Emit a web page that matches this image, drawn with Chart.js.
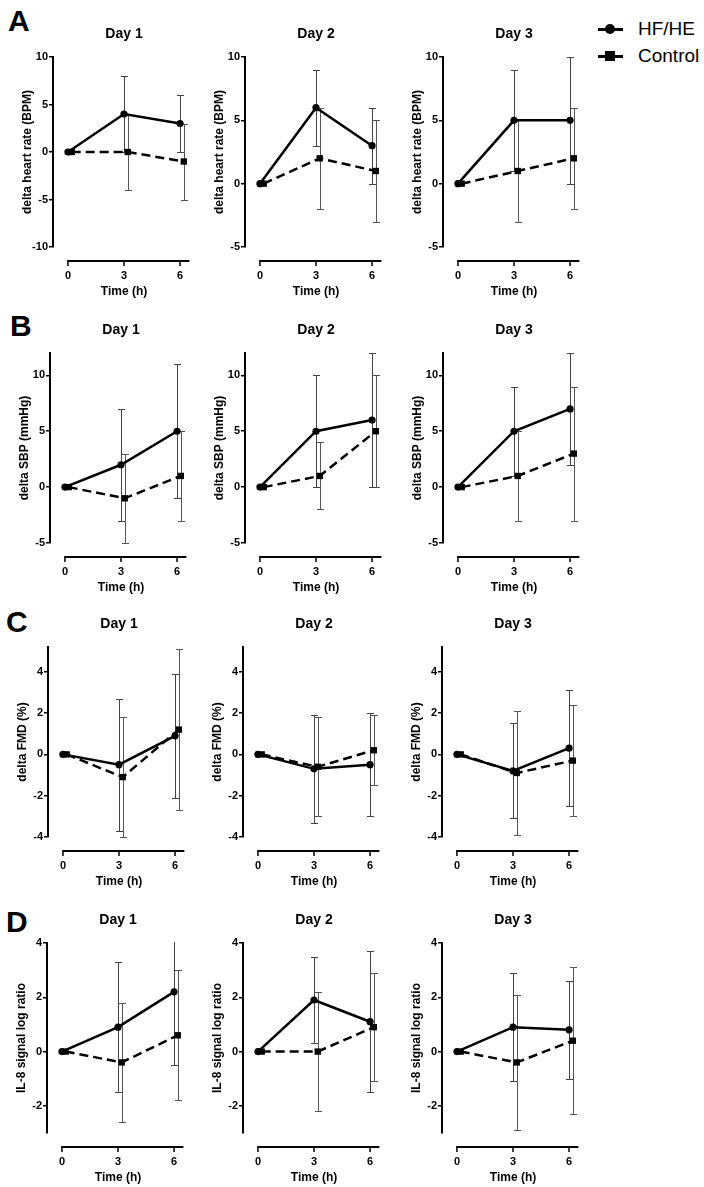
<!DOCTYPE html>
<html><head><meta charset="utf-8">
<script src="https://cdn.jsdelivr.net/npm/chart.js@4.4.0/dist/chart.umd.min.js"></script>
<style>
html,body{margin:0;padding:0;background:#fff;}
body{width:704px;height:1187px;position:relative;overflow:hidden;font-family:'Liberation Sans',Arial,sans-serif;color:#000;}
canvas{position:absolute;}
.letter{position:absolute;font-weight:bold;font-size:30px;line-height:30px;}
.legtext{position:absolute;font-size:19px;line-height:19px;left:638px;}
.legline{position:absolute;left:598px;width:25px;height:3px;background:#000;}
.legdot{position:absolute;width:10px;height:10px;background:#000;border-radius:50%;}
.legsq{position:absolute;width:10px;height:10px;background:#000;}
</style></head><body>
<div class="letter" style="left:8px;top:6px;">A</div>
<div class="letter" style="left:10px;top:311px;">B</div>
<div class="letter" style="left:6px;top:607px;">C</div>
<div class="letter" style="left:6px;top:907px;">D</div>

<div class="legline" style="top:28px;"></div><div class="legdot" style="left:605px;top:24px;"></div>
<div class="legtext" style="top:19px;">HF/HE</div>
<div class="legline" style="top:55px;"></div><div class="legsq" style="left:605px;top:51px;"></div>
<div class="legtext" style="top:46px;">Control</div>

<script>
// ---------------- data ----------------
const times = [0, 3, 6];
const xTickValues = [0, 3, 6];
const dayTitles = ['Day 1', 'Day 2', 'Day 3'];
const seriesNames = ['HF/HE', 'Control'];

// A: delta heart rate (BPM), per day [0h, 3h, 6h]
const hrHfMean   = [[0, 4, 3], [0, 6, 3], [0, 5, 5]];
const hrHfSd     = [[0, 4, 3], [0, 3, 3], [0, 4, 5]];
const hrCtrlMean = [[0, 0, -1], [0, 2, 1], [0, 1, 2]];
const hrCtrlSd   = [[0, 4, 4], [0, 4, 4], [0, 4, 4]];

// B: delta SBP (mmHg)
const sbpHfMean   = [[0, 2, 5], [0, 5, 6], [0, 5, 7]];
const sbpHfSd     = [[0, 5, 6], [0, 5, 6], [0, 4, 5]];
const sbpCtrlMean = [[0, -1, 1], [0, 1, 5], [0, 1, 3]];
const sbpCtrlSd   = [[0, 4, 4], [0, 3, 5], [0, 4, 6]];

// C: delta FMD (%)
const fmdHfMean   = [[0, -0.5, 0.9], [0, -0.7, -0.5], [0, -0.8, 0.3]];
const fmdHfSd     = [[0, 3.2, 3.0], [0, 2.6, 2.5], [0, 2.3, 2.8]];
const fmdCtrlMean = [[0, -1.1, 1.2], [0, -0.6, 0.2], [0, -0.9, -0.3]];
const fmdCtrlSd   = [[0, 2.9, 3.9], [0, 2.4, 1.7], [0, 3.0, 2.7]];

// D: IL-8 signal log ratio
const il8HfMean   = [[0, 0.9, 2.2], [0, 1.9, 1.1], [0, 0.9, 0.8]];
const il8HfSd     = [[0, 2.4, 2.7], [0, 1.6, 2.6], [0, 2.0, 1.8]];
const il8CtrlMean = [[0, -0.4, 0.6], [0, 0, 0.9], [0, -0.4, 0.4]];
const il8CtrlSd   = [[0, 2.2, 2.4], [0, 2.2, 2.0], [0, 2.5, 2.7]];

// y tick labels / axis ranges
const hrTicksDay1 = [-10, -5, 0, 5, 10];
const hrTicks     = [-5, 0, 5, 10];
const sbpTicks    = [-5, 0, 5, 10];
const fmdTicks    = [-4, -2, 0, 2, 4];
const il8Ticks    = [-2, 0, 2, 4];
const hrRangeDay1 = [-10, 10];
const hrRange     = [-5, 10];
const sbpRange    = [-5, 12];
const fmdRange    = [-4, 5.2];
const il8Range    = [-3, 4];

const yTitles = ['delta heart rate (BPM)', 'delta SBP (mmHg)', 'delta FMD (%)', 'IL-8 signal log ratio'];

// ---------------- layout / style ----------------
const rowChartTop = [57, 353, 647, 943];
const colAxisX = [[53, 245, 443], [50, 245, 443], [48, 243, 442], [47, 243, 442]];
const Y_SCALE_W = 40, TITLE_BLOCK = 35, PLOT_H = 190, X_SCALE_H = 52, PLOT_W = 142;
const X_MIN = -0.8, X_MAX = 6.8, X_AXIS_END = 6.5, CTRL_OFFSET = 0.2;

Chart.defaults.font.family = "'Liberation Sans', Arial, sans-serif";
Chart.defaults.color = '#000';

const errorBarPlugin = {
  id: 'errorBars',
  beforeDatasetsDraw(chart) {
    const {ctx, chartArea, scales: {x, y}} = chart;
    ctx.save();
    ctx.beginPath();
    ctx.rect(chartArea.left, chartArea.top - 1, chartArea.width + 10, chartArea.height + 2);
    ctx.clip();
    chart.data.datasets.forEach(ds => {
      ds.data.forEach((p, i) => {
        const sd = ds.sd[i];
        if (!sd) return;
        const px = Math.round(x.getPixelForValue(p.x)) + 0.5;
        const yt = Math.round(y.getPixelForValue(p.y + sd)) + 0.5;
        const yb = Math.round(y.getPixelForValue(p.y - sd)) + 0.5;
        ctx.strokeStyle = ds.errColor;
        ctx.lineWidth = 1;
        ctx.beginPath();
        ctx.moveTo(px, yt); ctx.lineTo(px, yb);
        ctx.moveTo(px - 3.5, yt); ctx.lineTo(px + 3.5, yt);
        ctx.moveTo(px - 3.5, yb); ctx.lineTo(px + 3.5, yb);
        ctx.stroke();
      });
    });
    ctx.restore();
  }
};

const xAxisPlugin = {
  id: 'offsetXAxis',
  afterDraw(chart) {
    const {ctx, chartArea, scales: {x}} = chart;
    const y0 = chartArea.bottom + 14;
    ctx.save();
    ctx.strokeStyle = '#000';
    ctx.lineWidth = 2;
    ctx.beginPath();
    ctx.moveTo(x.getPixelForValue(0) - 0.75, y0);
    ctx.lineTo(x.getPixelForValue(X_AXIS_END), y0);
    ctx.stroke();
    ctx.lineWidth = 1.5;
    ctx.beginPath();
    x.ticks.forEach(t => {
      const px = x.getPixelForValue(t.value);
      ctx.moveTo(px, y0); ctx.lineTo(px, y0 + 5);
    });
    ctx.stroke();
    ctx.restore();
  }
};

const rows = [
  {hf: hrHfMean, hfSd: hrHfSd, ct: hrCtrlMean, ctSd: hrCtrlSd, ticks: [hrTicksDay1, hrTicks, hrTicks], ranges: [hrRangeDay1, hrRange, hrRange]},
  {hf: sbpHfMean, hfSd: sbpHfSd, ct: sbpCtrlMean, ctSd: sbpCtrlSd, ticks: [sbpTicks, sbpTicks, sbpTicks], ranges: [sbpRange, sbpRange, sbpRange]},
  {hf: fmdHfMean, hfSd: fmdHfSd, ct: fmdCtrlMean, ctSd: fmdCtrlSd, ticks: [fmdTicks, fmdTicks, fmdTicks], ranges: [fmdRange, fmdRange, fmdRange]},
  {hf: il8HfMean, hfSd: il8HfSd, ct: il8CtrlMean, ctSd: il8CtrlSd, ticks: [il8Ticks, il8Ticks, il8Ticks], ranges: [il8Range, il8Range, il8Range]}
];

rows.forEach((row, r) => {
  for (let d = 0; d < 3; d++) {
    const cv = document.createElement('canvas');
    const W = Y_SCALE_W + PLOT_W, H = TITLE_BLOCK + PLOT_H + X_SCALE_H;
    cv.width = W; cv.height = H;
    cv.style.left = (colAxisX[r][d] - Y_SCALE_W) + 'px';
    cv.style.top = (rowChartTop[r] - TITLE_BLOCK) + 'px';
    cv.style.width = W + 'px'; cv.style.height = H + 'px';
    document.body.appendChild(cv);
    const yTicks = row.ticks[d];
    const yRange = row.ranges[d];
    new Chart(cv, {
      type: 'line',
      data: {
        datasets: [
          {
            label: seriesNames[1],
            data: times.map((t, i) => ({x: t + CTRL_OFFSET, y: row.ct[d][i]})),
            sd: row.ctSd[d],
            errColor: '#555',
            borderColor: '#000', backgroundColor: '#000',
            borderWidth: 2.5, borderDash: [9, 5],
            pointStyle: 'rect', pointRadius: 4.5, pointBorderWidth: 0,
            tension: 0, clip: false
          },
          {
            label: seriesNames[0],
            data: times.map((t, i) => ({x: t, y: row.hf[d][i]})),
            sd: row.hfSd[d],
            errColor: '#444',
            borderColor: '#000', backgroundColor: '#000',
            borderWidth: 2.5,
            pointStyle: 'circle', pointRadius: 3.6, pointBorderWidth: 0,
            tension: 0, clip: false
          }
        ]
      },
      options: {
        responsive: false,
        animation: false,
        devicePixelRatio: 1,
        layout: {padding: 0, autoPadding: false},
        plugins: {
          legend: {display: false},
          tooltip: {enabled: false},
          title: {
            display: true, text: dayTitles[d], fullSize: false,
            font: {size: 14, weight: 'bold', lineHeight: 16/14},
            color: '#000',
            padding: {top: 4, bottom: 15}
          }
        },
        scales: {
          x: {
            type: 'linear', position: 'bottom', min: X_MIN, max: X_MAX,
            afterBuildTicks: ax => { ax.ticks = xTickValues.map(v => ({value: v})); },
            afterFit: ax => { ax.height = X_SCALE_H; ax.paddingLeft = 0; ax.paddingRight = 0; },
            grid: {display: false, drawTicks: true, tickLength: 22},
            border: {display: false},
            ticks: {font: {size: 11, weight: 'bold'}, color: '#000', padding: 0, maxRotation: 0, autoSkip: false},
            title: {display: true, text: 'Time (h)', font: {size: 12, weight: 'bold'}, color: '#000', padding: {top: 0, bottom: 0}}
          },
          y: {
            type: 'linear', position: 'left', min: yRange[0], max: yRange[1],
            afterBuildTicks: ax => { ax.ticks = yTicks.map(v => ({value: v})); },
            afterFit: ax => { ax.width = Y_SCALE_W; },
            grid: {display: true, drawOnChartArea: false, drawTicks: true, tickLength: 4, color: '#000', lineWidth: 1.5},
            border: {display: true, color: '#000', width: 2},
            ticks: {font: {size: 11, weight: 'bold'}, color: '#000', padding: 1, autoSkip: false},
            title: {display: true, text: yTitles[r], font: {size: 12, weight: 'bold'}, color: '#000', padding: {top: 7, bottom: 0}}
          }
        }
      },
      plugins: [errorBarPlugin, xAxisPlugin]
    });
  }
});
</script>
</body></html>
